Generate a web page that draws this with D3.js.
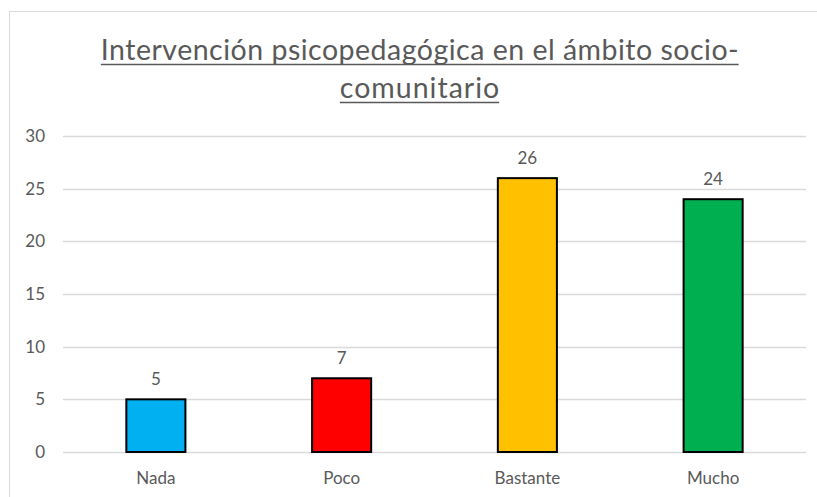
<!DOCTYPE html>
<html><head><meta charset="utf-8">
<script src="https://cdn.jsdelivr.net/npm/d3@7"></script>
<style>
html,body{margin:0;padding:0;background:#fff;overflow:hidden;}
svg{display:block;}
</style></head>
<body>
<script>
const categories = ["Nada", "Poco", "Bastante", "Mucho"];
const values = [5, 7, 26, 24];
const colors = ["#00B0F0", "#FF0000", "#FFC000", "#00B050"];
const yTicks = [0, 5, 10, 15, 20, 25, 30];
const titleLines = ["Intervención psicopedagógica en el ámbito socio-", "comunitario"];

(function () {
const W = 817, H = 497;
const font = "Lato, 'Open Sans', sans-serif";
const textColor = "#595959";
const svg = d3.select("body").append("svg").attr("width", W).attr("height", H);

// chart frame
svg.append("rect").attr("x", 9.5).attr("y", 11.5).attr("width", 830).attr("height", 520)
  .attr("fill", "#fff").attr("stroke", "#d9d9d9").attr("stroke-width", 1);

const mLeft = 63, mRight = 806, mTop = 136, mBottom = 452;
const x = d3.scaleBand().domain(categories).range([mLeft, mRight]).paddingInner(0.682).paddingOuter(0.341);
const y = d3.scaleLinear().domain([0, 30]).range([mBottom, mTop]);

// gridlines
svg.append("g").selectAll("line").data(yTicks).join("line")
  .attr("x1", mLeft).attr("x2", mRight)
  .attr("y1", d => Math.round(y(d)) + 0.5).attr("y2", d => Math.round(y(d)) + 0.5)
  .attr("stroke", "#d9d9d9").attr("stroke-width", 1.3);

// y axis labels
const yAxis = d3.axisLeft(y).tickValues(yTicks).tickSize(0).tickPadding(18);
const ga = svg.append("g").attr("transform", `translate(${mLeft},0)`).call(yAxis);
ga.select(".domain").remove();
ga.selectAll("text").attr("font-family", font).attr("font-size", 17).attr("fill", textColor);

// x axis labels
const xAxis = d3.axisBottom(x).tickSize(0).tickPadding(20);
const gx = svg.append("g").attr("transform", `translate(0,${mBottom})`).call(xAxis);
gx.select(".domain").remove();
gx.selectAll("text").attr("font-family", font).attr("font-size", 17).attr("fill", textColor);

// bars
svg.append("g").selectAll("rect").data(values).join("rect")
  .attr("x", (d, i) => x(categories[i]))
  .attr("y", d => y(d))
  .attr("width", x.bandwidth())
  .attr("height", d => y(0) - y(d))
  .attr("fill", (d, i) => colors[i])
  .attr("stroke", "#000").attr("stroke-width", 2);

// data labels
svg.append("g").selectAll("text").data(values).join("text")
  .attr("x", (d, i) => x(categories[i]) + x.bandwidth() / 2)
  .attr("y", d => y(d) - 14)
  .attr("text-anchor", "middle")
  .attr("font-family", font).attr("font-size", 17).attr("fill", textColor)
  .text(d => d);

// title
const tBaselines = [60, 98];
const tSpacing = [0.5, 1.0];
const tg = svg.append("g");
titleLines.forEach((t, i) => {
  const el = tg.append("text")
    .attr("x", 420).attr("y", tBaselines[i])
    .attr("text-anchor", "middle")
    .attr("font-family", font).attr("font-size", 28.5).attr("fill", textColor)
    .attr("letter-spacing", tSpacing[i])
    .text(t);
  const bb = el.node().getBBox();
  tg.append("line").attr("x1", bb.x).attr("x2", bb.x + bb.width - tSpacing[i])
    .attr("y1", tBaselines[i] + 4.5).attr("y2", tBaselines[i] + 4.5)
    .attr("stroke", textColor).attr("stroke-width", 1.6);
});
})();
</script>
</body></html>
